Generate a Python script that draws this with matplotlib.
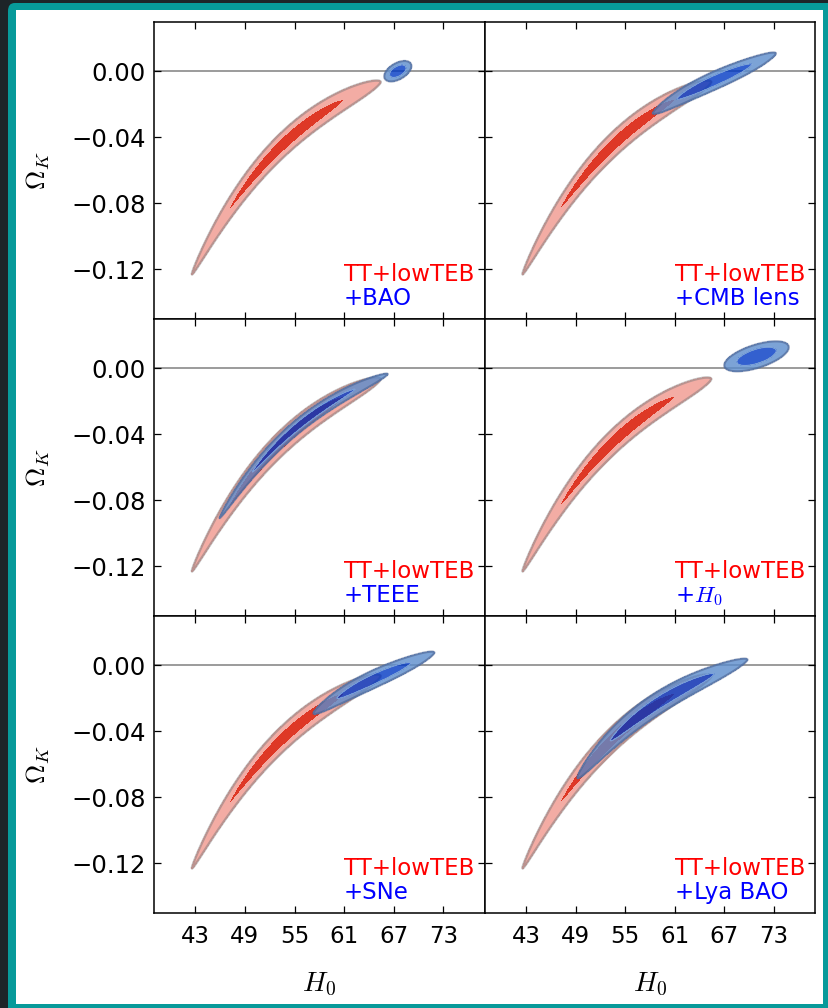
import numpy as np
import matplotlib
matplotlib.use("Agg")
import matplotlib.pyplot as plt
from matplotlib.patches import Rectangle, FancyBboxPatch

plt.rcParams["mathtext.fontset"] = "cm"
plt.rcParams["font.family"] = ["DejaVu Sans"]

# ---------------------------------------------------------------------------
# Data
# ---------------------------------------------------------------------------
h0_ticks = [43, 49, 55, 61, 67, 73]
ok_ticks = [0.00, -0.04, -0.08, -0.12]
h0_range = (38.0, 78.0)
ok_range = (-0.15, 0.03)

# ridge of the TT+lowTEB geometric degeneracy (H0, Omega_K)
ridge_h0 = [42.5, 45.1, 49.1, 54.4, 59.2, 65.3, 73.6]
ridge_ok = [-0.1247, -0.0988, -0.0681, -0.0422, -0.0236, -0.0055, 0.0113]

# delta chi^2 levels of the 68% and 95% regions
chi2_levels = [2.30, 6.17]

# base likelihood: along-ridge mean, sigma, cross-ridge width, offset, shape, taper
base_label = "TT+lowTEB"
base_params = (54.0, 4.60, 0.00205, 0.0, 1.7, 0.028)

# added data sets, drawn panel by panel
panel_labels = ["+BAO", "+CMB lens", "+TEEE", r"+$H_0$", "+SNe", "+Lya BAO"]
# 'ridge' likelihoods follow the degeneracy: mean, sigma, width, offset, shape, taper
# 'gauss' likelihoods are correlated Gaussians: H0, OmK, sH0, sOmK, rho
panel_kind = ["gauss", "ridge", "ridge", "gauss", "ridge", "ridge"]
panel_params = [
    (67.5, 0.0000, 0.66, 0.00250, 0.50),
    (65.8, 3.00, 0.00178, 0.0, 1.7, 0.0),
    (56.1, 4.10, 0.00127, 0.0010, 1.7, 0.015),
    (70.9, 0.0072, 1.57, 0.00366, 0.60),
    (64.6, 2.95, 0.00175, 0.0, 1.7, 0.0),
    (59.5, 4.15, 0.00210, 0.0004, 1.7, 0.0),
]

# ---------------------------------------------------------------------------
# Colours
# ---------------------------------------------------------------------------
red_fill = ["#de3826", "#f3aca4"]
red_edge = "#8a8080"
blue_fill = ["#0038c4", "#5b8ccc"]
blue_alpha = 0.8
blue_edge = "#4a5f8c"
frame_teal = "#079a9a"
backdrop = "#1d2428"

# ---------------------------------------------------------------------------
# Figure and frame
# ---------------------------------------------------------------------------
W, H = 829, 1008
fig = plt.figure(figsize=(W / 100, H / 100), dpi=100)
fig.patch.set_facecolor(backdrop)
fig.patches.append(FancyBboxPatch((8 / W, -10 / H), (W + 10 - 8) / W, (H + 10 - 3) / H,
                                  boxstyle="round,pad=0,rounding_size=0.008",
                                  transform=fig.transFigure, facecolor=frame_teal,
                                  edgecolor="none", zorder=-10))
fig.patches.append(Rectangle((16 / W, 4 / H), (823 - 16) / W, (H - 10 - 4) / H,
                             transform=fig.transFigure, facecolor="white",
                             edgecolor="none", zorder=-9))

ax_left, ax_w = 154 / W, 330.6 / W
ax_top, ax_h = 1 - 21.7 / H, 297.0 / H

# grid for the likelihood surfaces
hh, oo = np.meshgrid(np.linspace(*h0_range, 800), np.linspace(*ok_range, 800))
coef = np.polyfit(ridge_h0, ridge_ok, 3)
dcoef = np.polyder(coef)
# Omega_K per pixel over H0 per pixel: turns vertical offsets into cross-ridge ones
scale = ((ok_range[1] - ok_range[0]) / (ax_h * H)) / ((h0_range[1] - h0_range[0]) / (ax_w * W))


def ridge_chi2(mean, sigma, width, offset, shape, taper):
    ridge = np.polyval(coef, hh)
    slope = np.polyval(dcoef, hh) / scale
    d = (oo - ridge) / np.sqrt(1 + slope ** 2) - offset
    w = width * np.clip(1 + taper * (hh - mean), 0.15, None)
    return ((hh - mean) / sigma) ** 2 + np.abs(d / w) ** shape


def gauss_chi2(mh, mo, sh, so, rho):
    x = (hh - mh) / sh
    y = (oo - mo) / so
    return (x * x - 2 * rho * x * y + y * y) / (1 - rho ** 2)


base = ridge_chi2(*base_params)

for i in range(6):
    row, col = divmod(i, 2)
    ax = fig.add_axes([ax_left + col * ax_w, ax_top - (row + 1) * ax_h, ax_w, ax_h])
    ax.set_xlim(*h0_range)
    ax.set_ylim(*ok_range)

    ax.axhline(0, color="#8a8a8a", lw=1.2, zorder=1)

    ax.contourf(hh, oo, base, levels=[0] + chi2_levels, colors=red_fill, zorder=2)
    ax.contour(hh, oo, base, levels=[chi2_levels[1]], colors=[red_edge],
               linewidths=1.8, alpha=0.55, zorder=2.1)

    if panel_kind[i] == "ridge":
        chi2 = ridge_chi2(*panel_params[i])
    else:
        chi2 = gauss_chi2(*panel_params[i])
    ax.contourf(hh, oo, chi2, levels=[0] + chi2_levels, colors=blue_fill,
                alpha=blue_alpha, zorder=3)
    ax.contour(hh, oo, chi2, levels=[chi2_levels[1]], colors=[blue_edge],
               linewidths=1.6, alpha=0.55, zorder=3.1)
    ax.contour(hh, oo, chi2, levels=[chi2_levels[0]], colors=["#9ab6e2"],
               linewidths=0.8, alpha=0.6, zorder=3.1)

    ax.text(0.575, 0.128, base_label, color="#ff0000", fontsize=16.5,
            transform=ax.transAxes, ha="left", va="baseline", zorder=5)
    ax.text(0.575, 0.047, panel_labels[i], color="#0000ff", fontsize=16.5,
            transform=ax.transAxes, ha="left", va="baseline", zorder=5)

    ax.set_xticks(h0_ticks)
    ax.set_yticks(ok_ticks)
    ax.tick_params(direction="in", top=True, right=True, length=5, width=0.9,
                   labelsize=16.5, pad=6)
    ax.tick_params(axis="y", labelsize=17.5)
    for s in ax.spines.values():
        s.set_linewidth(1.1)

    if col == 0:
        ax.set_yticklabels([f"{t:.2f}".replace("-", "\u2212") for t in ok_ticks])
        ax.set_ylabel(r"$\Omega_K$", fontsize=19, labelpad=14)
    else:
        ax.set_yticklabels([])
    if row == 2:
        ax.set_xticklabels([str(t) for t in h0_ticks])
        ax.tick_params(axis="x", pad=9)
        ax.set_xlabel(r"$H_0$", fontsize=20, labelpad=16)
    else:
        ax.set_xticklabels([])

fig.savefig("out.png", dpi=100, facecolor=fig.get_facecolor())
